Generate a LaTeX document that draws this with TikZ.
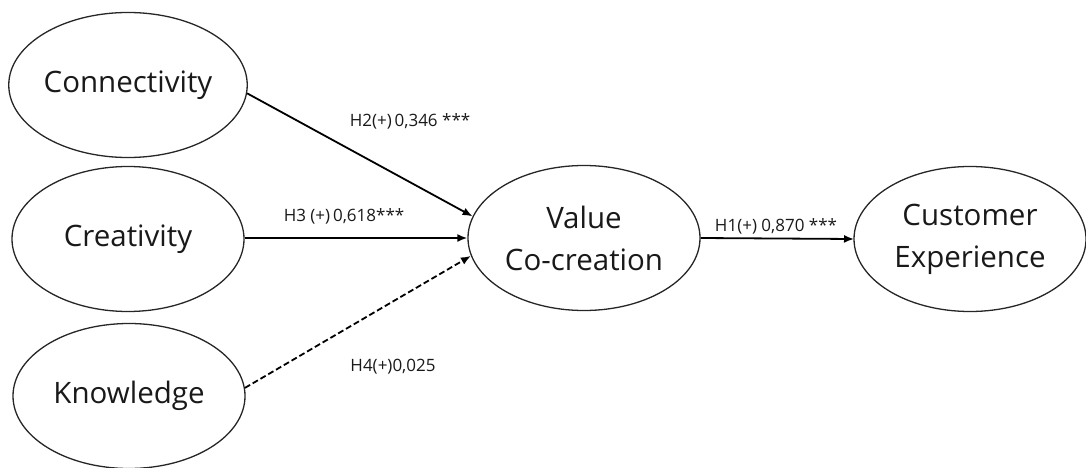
\documentclass[tikz,border=0pt]{standalone}
\usepackage{fontspec}
\setmainfont{Open Sans}
\usetikzlibrary{arrows.meta,shapes.geometric}
\begin{document}
\begin{tikzpicture}[x=1pt,y=-1pt,
  construct/.style={draw=black!85, ellipse, line width=1.3pt, minimum width=232pt, minimum height=145pt,
    inner sep=0pt, align=center, font=\fontsize{29.5}{42}\selectfont, text=black!90},
  path/.style={line width=1.8pt, -{Latex[length=10pt,width=8pt]}},
  lbl/.style={font=\fontsize{17}{20}\selectfont, text=black!90, inner sep=0pt}]
\useasboundingbox (0,0) rectangle (1086,468);
\node[construct] (conn) at (128,85) {Connectivity};
\node[construct] (cre) at (128,239) {Creativity};
\node[construct] (know) at (129,396) {Knowledge};
\node[construct] (vc) at (584,238) {Value\\Co-creation};
\node[construct] (ce) at (970,239) {Customer\\Experience};
\draw[path] (conn.-4.5) -- (vc.169);
\draw[path] (cre.east |- vc.west) -- (vc.west);
\draw[path, dashed, dash pattern=on 6pt off 3pt] (know.4) -- (vc.-171);
\draw[path] (vc.east) -- (ce.west -| 854,0);
\node[lbl] (l2) at (410,121) {H2(+)\,0,346 ***};
\node[lbl] (l3) at (344,216) {H3 (+)\,0,618***};
\node[lbl] (l1) at (776,226) {H1(+) 0,870 ***};
\node[lbl] (l4) at (393,367) {H4(+)0,025};
\end{tikzpicture}
\end{document}
